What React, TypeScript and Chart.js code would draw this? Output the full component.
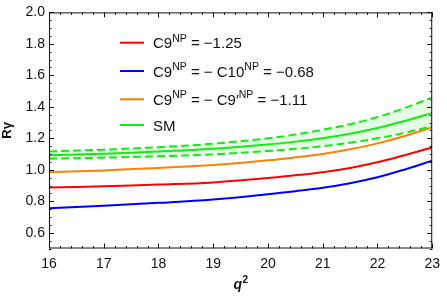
import React, { useEffect, useRef } from 'react';
import { Chart, registerables } from 'chart.js';

Chart.register(...registerables);

const q2 = [16, 17, 18, 19, 20, 20.5, 21, 21.5, 22, 22.5, 23];
const smUpper = [1.117, 1.128, 1.144, 1.166, 1.2, 1.224, 1.254, 1.29, 1.335, 1.393, 1.46];
const smCentral = [1.092, 1.102, 1.116, 1.134, 1.161, 1.179, 1.201, 1.229, 1.265, 1.31, 1.36];
const smLower = [1.071, 1.077, 1.086, 1.098, 1.119, 1.133, 1.15, 1.172, 1.2, 1.235, 1.278];
const redC9 = [0.8875, 0.895, 0.906, 0.92, 0.948, 0.965, 0.985, 1.012, 1.048, 1.093, 1.142];
const blueC9C10 = [0.756, 0.772, 0.79, 0.812, 0.845, 0.864, 0.886, 0.915, 0.953, 1.002, 1.058];
const orangeC9C9p = [0.986, 0.996, 1.012, 1.03, 1.06, 1.079, 1.101, 1.13, 1.168, 1.215, 1.27];

const xTicks = [16, 17, 18, 19, 20, 21, 22, 23];
const yTicks = [0.6, 0.8, 1.0, 1.2, 1.4, 1.6, 1.8, 2.0];

const RED = 'rgb(255,0,0)';
const BLUE = 'rgb(0,0,255)';
const ORANGE = 'rgb(255,128,0)';
const GREEN = 'rgb(20,235,20)';

// legend entries: list of [text, isSuperscript] segments
const legendColors = [RED, BLUE, ORANGE, GREEN];
const legendLabels: [string, boolean][][] = [
  [['C9', false], ['NP', true], [' = \u22121.25', false]],
  [['C9', false], ['NP', true], [' = \u2212 C10', false], ['NP', true], [' = \u22120.68', false]],
  [['C9', false], ['NP', true], [' = \u2212 C9\u2032', false], ['NP', true], [' = \u22121.11', false]],
  [['SM', false]],
];

const FONT = "'Liberation Sans', Arial, Helvetica, sans-serif";

const pts = (ys: number[]) => q2.map((x, i) => ({ x, y: ys[i] }));

const framePlugin = {
  id: 'frameTicks',
  afterDraw(chart: any) {
    const ctx = chart.ctx;
    const { left, right, top, bottom } = chart.chartArea;
    const xs = chart.scales.x;
    const ys = chart.scales.y;
    ctx.save();
    ctx.strokeStyle = '#111';
    ctx.lineWidth = 1;
    ctx.strokeRect(left + 0.5, top + 0.5, right - left - 1, bottom - top - 1);
    const major = 5;
    const minor = 2.5;
    ctx.beginPath();
    for (let k = 0; k <= 35; k++) {
      const v = 16 + k * 0.2;
      const px = Math.round(xs.getPixelForValue(v)) + 0.5;
      const len = k % 5 === 0 ? major : minor;
      ctx.moveTo(px, bottom);
      ctx.lineTo(px, bottom - len);
      ctx.moveTo(px, top);
      ctx.lineTo(px, top + len);
    }
    for (let k = 0; k <= 30; k++) {
      const v = 0.5 + k * 0.05;
      const py = Math.round(ys.getPixelForValue(v)) + 0.5;
      const len = (k + 2) % 4 === 0 ? major : minor;
      ctx.moveTo(left, py);
      ctx.lineTo(left + len, py);
      ctx.moveTo(right, py);
      ctx.lineTo(right - len, py);
    }
    ctx.stroke();

    // x axis title q^2
    ctx.fillStyle = '#111';
    ctx.textAlign = 'left';
    ctx.textBaseline = 'alphabetic';
    const cx = (left + right) / 2;
    ctx.font = `italic bold 14px ${FONT}`;
    const wq = ctx.measureText('q').width;
    ctx.font = `bold 10px ${FONT}`;
    const w2 = ctx.measureText('2').width;
    const sx = cx - (wq + w2) / 2;
    ctx.font = `italic bold 14px ${FONT}`;
    ctx.fillText('q', sx, 289);
    ctx.font = `bold 10px ${FONT}`;
    ctx.fillText('2', sx + wq + 0.5, 283);

    // legend
    const rowsY = [42.7, 71, 99.3, 125];
    const lineX0 = 120;
    const lineX1 = 144;
    const textX = 153;
    legendLabels.forEach((segs, i) => {
      const y = rowsY[i];
      ctx.strokeStyle = legendColors[i];
      ctx.lineWidth = 2;
      ctx.beginPath();
      ctx.moveTo(lineX0, y);
      ctx.lineTo(lineX1, y);
      ctx.stroke();
      let x = textX;
      ctx.fillStyle = '#111';
      const base = y + 5.5;
      segs.forEach(([t, sup]) => {
        if (sup) {
          ctx.font = `10.5px ${FONT}`;
          ctx.fillText(t, x, base - 6.5);
        } else {
          ctx.font = `15px ${FONT}`;
          ctx.fillText(t, x, base);
        }
        x += ctx.measureText(t).width;
      });
    });
    ctx.restore();
  },
};

const lineDs = (label: string, ys: number[], color: string, extra: any = {}) => ({
  label,
  data: pts(ys),
  borderColor: color,
  borderWidth: 2,
  pointRadius: 0,
  fill: false,
  tension: 0.4,
  ...extra,
});

export default function App() {
  const ref = useRef<HTMLCanvasElement | null>(null);
  useEffect(() => {
    document.body.style.margin = '0';
    const canvas = ref.current!;
    const chart = new Chart(canvas, {
      type: 'line',
      data: {
        datasets: [
          lineDs('SM upper', smUpper, GREEN, {
            borderDash: [8, 4],
            fill: '+1',
            backgroundColor: 'rgba(40,230,40,0.13)',
          }),
          lineDs('SM lower', smLower, GREEN, { borderDash: [8, 4] }),
          lineDs('SM', smCentral, GREEN),
          lineDs('C9 = -C9p', orangeC9C9p, ORANGE),
          lineDs('C9', redC9, RED),
          lineDs('C9 = -C10', blueC9C10, BLUE),
        ],
      },
      options: {
        animation: false,
        responsive: false,
        maintainAspectRatio: false,
        layout: { padding: { left: 0, right: 9, top: 9, bottom: 0 } },
        plugins: {
          legend: { display: false },
          tooltip: { enabled: false },
        },
        scales: {
          x: {
            type: 'linear',
            min: 16,
            max: 23,
            grid: { display: false, drawTicks: false },
            border: { display: false },
            afterBuildTicks: (s: any) => {
              s.ticks = xTicks.map((v) => ({ value: v }));
            },
            afterFit: (s: any) => {
              s.height = 50.5;
            },
            ticks: {
              color: '#111',
              font: { family: FONT, size: 14 },
              padding: 7,
              maxRotation: 0,
              callback: (v: any) => String(v),
            },
          },
          y: {
            type: 'linear',
            min: 0.5,
            max: 2.0,
            grid: { display: false, drawTicks: false },
            border: { display: false },
            afterBuildTicks: (s: any) => {
              s.ticks = yTicks.map((v) => ({ value: v }));
            },
            afterFit: (s: any) => {
              s.width = 49;
            },
            ticks: {
              color: '#111',
              font: { family: FONT, size: 14 },
              padding: 4,
              callback: (v: any) => Number(v).toFixed(1),
            },
            title: {
              display: true,
              text: 'R\u03B3',
              color: '#111',
              font: { family: FONT, size: 13, weight: 'bold' },
              padding: { top: 0, bottom: 0 },
            },
          },
        },
      },
      plugins: [framePlugin],
    } as any);
    return () => chart.destroy();
  }, []);
  return (
    <div style={{ position: 'absolute', left: 0, top: 0, width: 447, height: 299 }}>
      <canvas ref={ref} width={447} height={299} style={{ width: 447, height: 299 }} />
    </div>
  );
}
